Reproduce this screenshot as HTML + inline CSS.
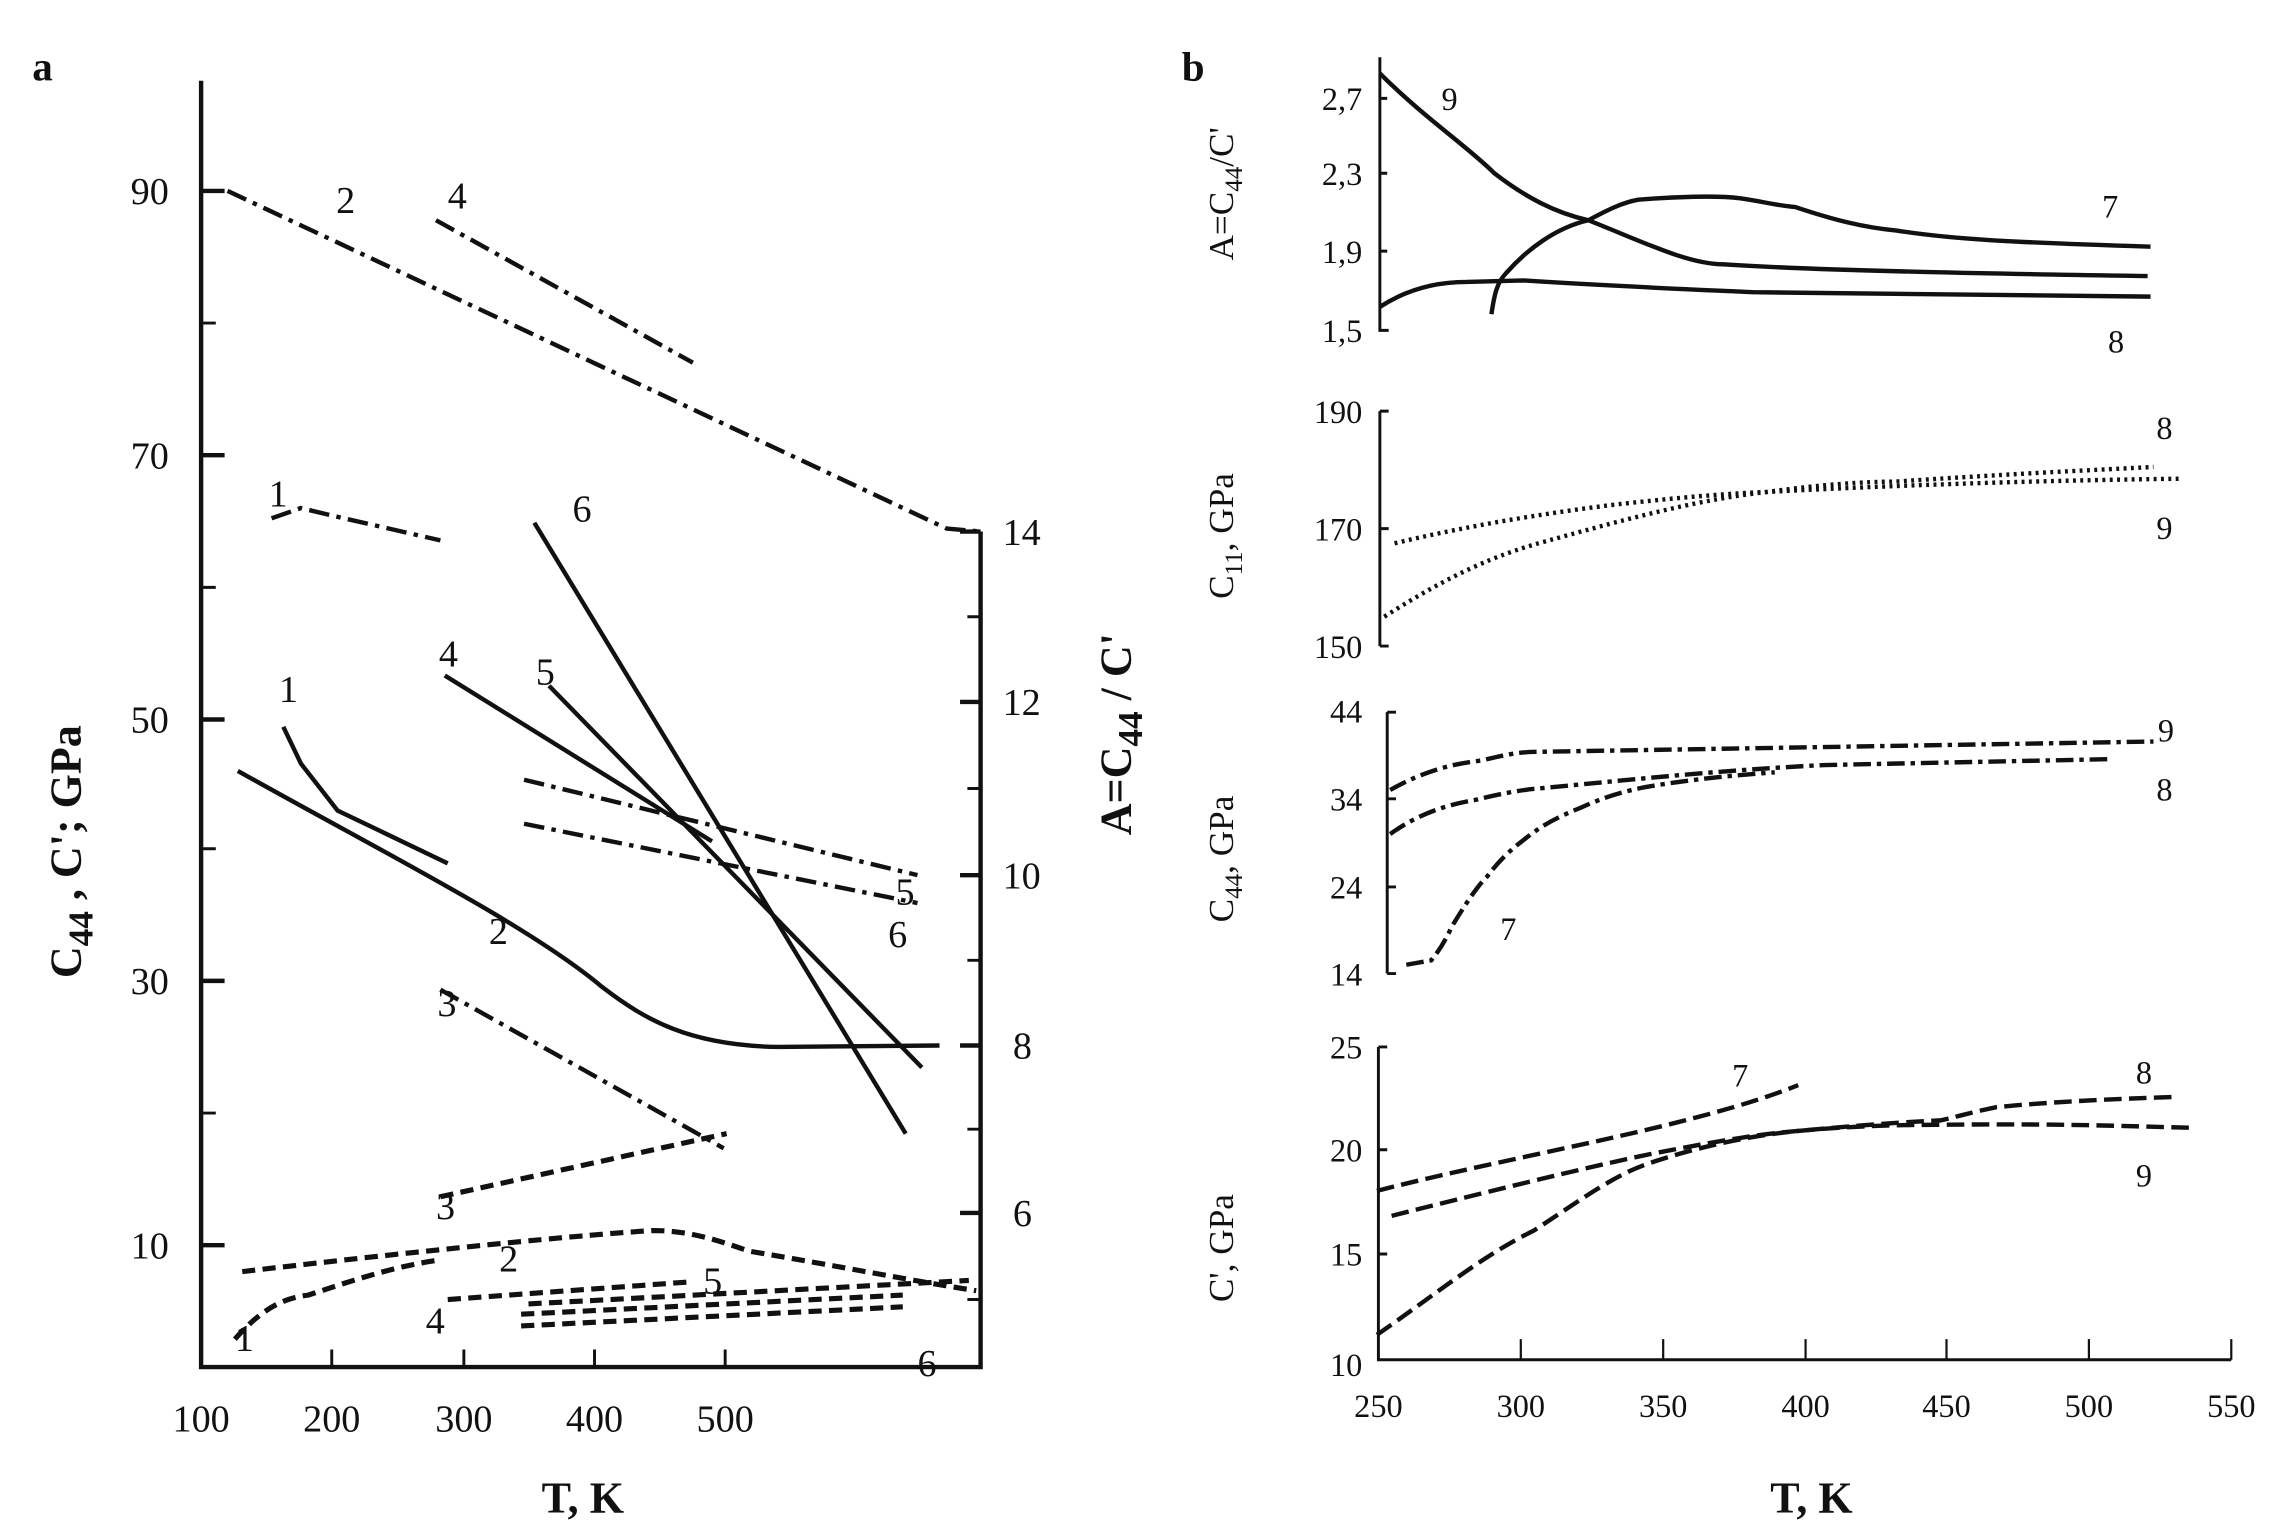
<!DOCTYPE html>
<html><head><meta charset="utf-8"><style>
html,body{margin:0;padding:0;background:#fff;}
svg{display:block;}
text{font-family:"Liberation Serif",serif;fill:#111;}
</style></head><body>
<svg width="2290" height="1533" viewBox="0 0 1560 1044" preserveAspectRatio="none" xmlns="http://www.w3.org/2000/svg">
<g stroke="#111" fill="none">
<!-- Panel a axes -->
<path d="M137,55 L137,931 L668,931 L668,362" stroke-width="3"/>
<g stroke-width="3">
<path d="M137,130h16M137,310h16M137,490h16M137,668h16M137,848h16"/>
<path d="M137,220h10M137,400h10M137,578h10M137,758h10" stroke-width="2"/>
<path d="M226,931v-12M316,931v-12M405,931v-12M494,931v-12" stroke-width="2"/>
<path d="M668,362h-14M668,478h-14M668,596h-14M668,712h-14M668,826h-14"/>
<path d="M668,420h-9M668,537h-9M668,654h-9M668,769h-9M668,885h-9" stroke-width="2"/>
</g>
<!-- dash-dot lines a -->
<g stroke-width="3" stroke-dasharray="14 5 3 5">
<path d="M155,130 L645,360 L668,362"/>
<path d="M297,150 L472,247"/>
<path d="M185,353 L205,346 L230,352 L300,368"/>
<path d="M357,531 L625,596"/>
<path d="M357,561 L625,615"/>
<path d="M300,674 L493,782"/>
</g>
<!-- solid a -->
<g stroke-width="3">
<path d="M162,525 C260,580 360,630 410,672 C440,695 470,712 530,713 L640,712"/>
<path d="M193,495 L205,520 L230,552 L305,588"/>
<path d="M303,460 L485,573"/>
<path d="M364,356 L617,772"/>
<path d="M374,467 L628,727"/>
</g>
<!-- dashed a -->
<g stroke-width="3.5" stroke-dasharray="9 5">
<path d="M300,815 L495,772"/>
<path d="M165,866 C250,856 380,842 445,838 C470,838 490,845 510,852 C570,862 620,872 665,879"/>
<path d="M160,912 C175,895 190,884 210,882 C240,872 270,862 300,858"/>
<path d="M305,885 L470,873"/>
<path d="M360,888 L660,872"/>
<path d="M355,903 L615,890"/>
<path d="M355,895 L615,882"/>
</g>
<!-- Panel b axes -->
<g stroke-width="2">
<path d="M940,39 V225 h6 M940,67h5 M940,118h5 M940,171h5"/>
<path d="M940,280 V440 M940,280h6 M940,360h6 M940,440h6"/>
<path d="M945,485 V663 M945,485h6 M945,544h6 M945,604h6 M945,663h6"/>
<path d="M939,713 V926 H1520 M939,713h6 M939,783h6 M939,854h6"/>
<path d="M1036,926v-14M1133,926v-14M1230,926v-14M1326,926v-14M1423,926v-14M1520,926v-14" stroke-width="1.5"/>
</g>
<g stroke-width="3">
<path d="M940,50 C970,80 1000,100 1018,118 C1040,135 1060,145 1082,150 C1120,165 1150,180 1174,180 C1250,185 1400,187 1463,188"/>
<path d="M1016,214 C1018,200 1020,192 1026,186 C1040,170 1060,155 1082,150 C1095,143 1105,138 1116,136 C1140,134 1170,133 1185,135 C1200,137 1210,140 1223,141 C1250,150 1270,155 1292,157 C1330,163 1370,165 1465,168"/>
<path d="M940,209 C960,196 980,192 999,192 L1038,191 C1100,195 1150,197 1194,199 L1465,202"/>
</g>
<g stroke-width="3" stroke-dasharray="2 3">
<path d="M943,420 C990,390 1020,378 1048,370 C1120,350 1160,340 1204,335 C1240,330 1270,328 1291,328 C1380,322 1430,320 1467,318"/>
<path d="M950,370 C1000,358 1050,350 1097,344 C1150,338 1180,336 1204,335 C1300,330 1400,327 1487,326"/>
</g>
<g stroke-width="3" stroke-dasharray="12 4 3 4">
<path d="M947,538 C970,525 990,520 1009,518 C1025,514 1035,512 1048,512 L1467,505"/>
<path d="M947,568 C965,555 985,548 1004,545 C1020,541 1035,538 1048,537 C1120,530 1180,524 1243,521 L1438,517"/>
<path d="M958,657 L975,654 C980,648 985,640 989,631 C997,618 1005,605 1013,597 C1022,585 1030,578 1038,572 C1050,562 1062,556 1077,550 C1090,544 1105,539 1121,536 C1150,531 1180,528 1209,526"/>
</g>
<g stroke-width="3" stroke-dasharray="12 5">
<path d="M938,811 C1000,795 1080,780 1140,765 C1180,755 1205,747 1225,739"/>
<path d="M948,828 C1000,815 1080,795 1124,786 C1170,777 1200,772 1227,770 C1270,766 1300,764 1322,763 C1335,760 1345,757 1360,754 C1400,750 1450,748 1484,747"/>
<path d="M938,909 C980,880 1010,855 1045,838 C1080,815 1100,800 1124,792 C1160,780 1195,773 1227,770 C1260,767 1290,766 1322,766 C1400,765 1450,767 1492,768"/>
</g>
</g>
<!-- text panel a -->
<g font-size="26">
<text x="22" y="55" font-weight="bold" font-size="28">a</text>
<g text-anchor="end"><text x="115" y="139">90</text><text x="115" y="319">70</text><text x="115" y="499">50</text><text x="115" y="677">30</text><text x="115" y="857">10</text></g>
<g text-anchor="middle" font-size="26"><text x="137" y="975">100</text><text x="226" y="975">200</text><text x="316" y="975">300</text><text x="405" y="975">400</text><text x="494" y="975">500</text></g>
<g><text x="683" y="371">14</text><text x="683" y="487">12</text><text x="683" y="605">10</text><text x="690" y="721">8</text><text x="690" y="835">6</text></g>
<text x="397" y="1030" text-anchor="middle" font-weight="bold" font-size="30">T, K</text>
<text transform="translate(55,580) rotate(-90)" text-anchor="middle" font-weight="bold" font-size="30">C<tspan font-size="24" dy="8">44</tspan><tspan dy="-8"> , C'; GPa</tspan></text>
<text transform="translate(770,500) rotate(-90)" text-anchor="middle" font-weight="bold" font-size="30">A=C<tspan font-size="24" dy="8">44</tspan><tspan dy="-8"> / C'</tspan></text>
<text x="229" y="145">2</text><text x="305" y="142">4</text><text x="183" y="345">1</text><text x="390" y="355">6</text>
<text x="365" y="466">5</text><text x="299" y="454">4</text><text x="190" y="478">1</text><text x="333" y="643">2</text>
<text x="298" y="692">3</text><text x="610" y="616">5</text><text x="605" y="645">6</text><text x="297" y="830">3</text>
<text x="340" y="866">2</text><text x="479" y="881">5</text><text x="290" y="908">4</text><text x="160" y="920">1</text><text x="625" y="937">6</text>
</g>
<!-- text panel b -->
<g font-size="22">
<text x="805" y="55" font-weight="bold" font-size="28">b</text>
<g text-anchor="end"><text x="928" y="75">2,7</text><text x="928" y="126">2,3</text><text x="928" y="179">1,9</text><text x="928" y="233">1,5</text>
<text x="928" y="288">190</text><text x="928" y="368">170</text><text x="928" y="448">150</text>
<text x="928" y="492">44</text><text x="928" y="552">34</text><text x="928" y="612">24</text><text x="928" y="671">14</text>
<text x="928" y="721">25</text><text x="928" y="791">20</text><text x="928" y="862">15</text><text x="928" y="937">10</text></g>
<g text-anchor="middle"><text x="939" y="965">250</text><text x="1036" y="965">300</text><text x="1133" y="965">350</text><text x="1230" y="965">400</text><text x="1326" y="965">450</text><text x="1423" y="965">500</text><text x="1520" y="965">550</text></g>
<text x="1234" y="1030" text-anchor="middle" font-weight="bold" font-size="30">T, K</text>
<g font-size="24" text-anchor="middle">
<text transform="translate(840,132) rotate(-90)">A=C<tspan font-size="17" dy="6">44</tspan><tspan dy="-6">/C'</tspan></text>
<text transform="translate(840,365) rotate(-90)">C<tspan font-size="17" dy="6">11</tspan><tspan dy="-6">, GPa</tspan></text>
<text transform="translate(840,585) rotate(-90)">C<tspan font-size="17" dy="6">44</tspan><tspan dy="-6">, GPa</tspan></text>
<text transform="translate(840,850) rotate(-90)">C', GPa</text>
</g>
<text x="982" y="75">9</text><text x="1432" y="148">7</text><text x="1436" y="240">8</text>
<text x="1469" y="299">8</text><text x="1469" y="367">9</text>
<text x="1470" y="505">9</text><text x="1469" y="545">8</text><text x="1022" y="640">7</text>
<text x="1180" y="740">7</text><text x="1455" y="738">8</text><text x="1455" y="808">9</text>
</g>
</svg>
</body></html>
